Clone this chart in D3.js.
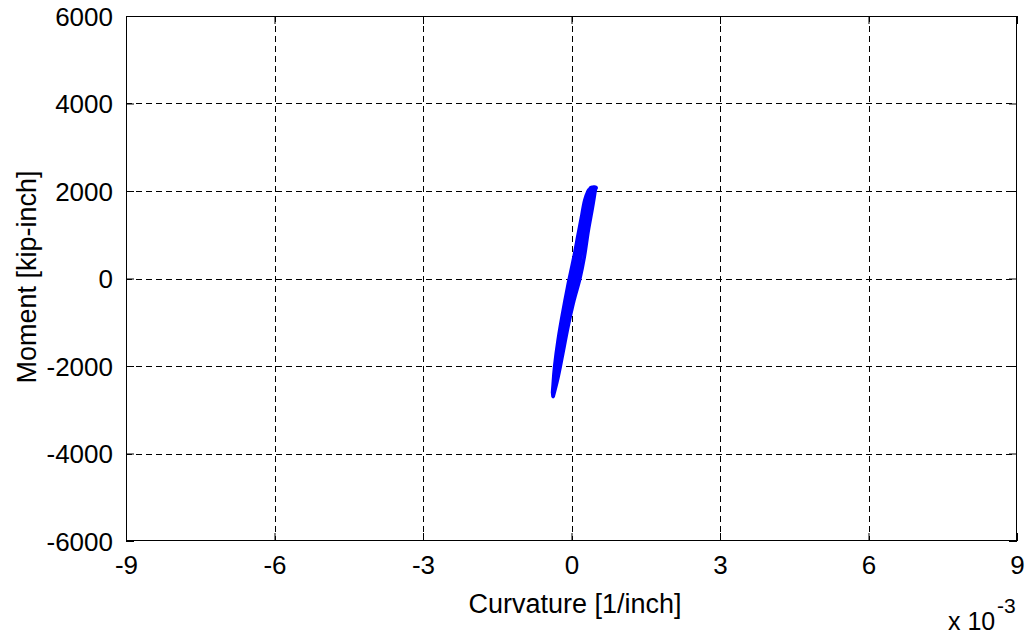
<!DOCTYPE html>
<html><head><meta charset="utf-8">
<script src="https://cdn.jsdelivr.net/npm/d3@7"></script>
<style>body{margin:0;background:#fff}svg{display:block}text{font-family:"Liberation Sans",Arial,sans-serif;fill:#000}</style>
</head><body><svg id="c" width="1028" height="634"></svg>
<script>
const xTicks=[-9,-6,-3,0,3,6,9];
const yTicks=[-6000,-4000,-2000,0,2000,4000,6000];
// curvature in units of 1e-3 1/inch, moment in kip-inch (cyclic hysteresis loops)
const curvature=[
 -0.37,-0.28,-0.19,-0.07,0.05,0.17,0.26,0.34,0.42,0.47,0.48,0.44,
 0.36,0.26,0.15,0.05,-0.08,-0.18,-0.27,-0.34,-0.37,-0.38,
 -0.33,-0.22,-0.10,0.02,0.12,0.22,0.31,0.38,0.41,0.37,
 0.30,0.20,0.10,0.00,-0.12,-0.22,-0.30,-0.35,-0.37,
 -0.32,-0.20,-0.06,0.06,0.16,0.26,0.34,0.40,0.43,0.39,
 0.32,0.22,0.12,0.01,-0.10,-0.20,-0.29,-0.35,-0.38,
 -0.34,-0.24,-0.13,0.00,0.10,0.20,0.29,0.37,0.44,0.50,0.47,
 0.40,0.30,0.19,0.07,-0.05,-0.16,-0.26,-0.33,-0.37,
 -0.30,-0.16,-0.03,0.09,0.19,0.27,0.33,0.36,0.34,
 0.27,0.18,0.08,-0.03,-0.14,-0.24,-0.32,-0.36,-0.37,
 -0.36,-0.25,-0.15,-0.04,0.07,0.14,0.24,0.32,0.39,0.45,0.42,
 0.34,0.24,0.13,0.03,-0.07,-0.17,-0.25,-0.31,-0.36,
 -0.33,-0.21,-0.09,0.03,0.13,0.23,0.30,0.35,0.38,0.35,
 0.28,0.17,0.06,-0.05,-0.15,-0.23,-0.30,-0.35,-0.38,
 -0.35,-0.26,-0.17,-0.05,0.04,0.13,0.21,0.29,0.36,0.42,0.46,0.43,
 0.37,0.28,0.17,0.06,-0.04,-0.14,-0.23,-0.30,-0.35,-0.37,
 -0.34,-0.23,-0.11,0.00,0.09,0.18,0.27,0.33,0.37,0.40,0.37,
 0.31,0.21,0.11,0.03,-0.06,-0.16,-0.25,-0.32,-0.37];
const moment=[
 -2700,-2300,-1800,-1100,-500,0,500,1100,1600,1950,2060,2090,
 2000,1700,1100,500,-200,-800,-1400,-2000,-2400,-2650,
 -2500,-1900,-1200,-500,100,700,1300,1800,2020,2050,
 1850,1300,700,100,-600,-1300,-1900,-2350,-2600,
 -2450,-1700,-900,-200,400,1000,1600,1950,2070,2080,
 1900,1400,800,100,-600,-1250,-1850,-2350,-2700,
 -2550,-2000,-1400,-600,0,600,1200,1700,2000,2070,2090,
 2000,1600,1000,300,-400,-1050,-1700,-2200,-2550,
 -2300,-1500,-800,-100,550,1150,1650,1950,2000,
 1800,1250,600,-100,-800,-1500,-2100,-2500,-2700,
 -2650,-2050,-1500,-850,-250,250,850,1400,1850,2040,2070,
 1950,1550,950,350,-300,-950,-1550,-2050,-2450,
 -2400,-1800,-1050,-350,250,800,1350,1800,2000,2030,
 1800,1150,450,-250,-900,-1500,-2000,-2450,-2680,
 -2550,-2150,-1650,-950,-400,150,650,1150,1650,1950,2040,2060,
 1980,1650,1050,400,-250,-850,-1450,-1950,-2350,-2600,
 -2450,-1850,-1150,-450,50,600,1200,1600,1900,2010,2040,
 1850,1300,650,150,-450,-1100,-1700,-2200,-2620];

const svg=d3.select("#c");
const L=126,R=1017,T=16,B=541;
const x=d3.scaleLinear().domain([-9,9]).range([L,R]);
const y=d3.scaleLinear().domain([-6000,6000]).range([B,T]);

const g=svg.append("g");
g.selectAll(".gx").data(xTicks.slice(1,-1)).enter().append("line")
 .attr("x1",d=>Math.round(x(d))+0.5).attr("x2",d=>Math.round(x(d))+0.5).attr("y1",T).attr("y2",B)
 .attr("stroke","#000").attr("stroke-width",1).attr("stroke-dasharray","6,4");
g.selectAll(".gy").data(yTicks.slice(1,-1)).enter().append("line")
 .attr("y1",d=>Math.round(y(d))+0.5).attr("y2",d=>Math.round(y(d))+0.5).attr("x1",L).attr("x2",R)
 .attr("stroke","#000").attr("stroke-width",1).attr("stroke-dasharray","6,4");

const line=d3.line().x((d,i)=>x(curvature[i])).y((d,i)=>y(moment[i])).curve(d3.curveCatmullRom);
svg.append("path").attr("d",line(curvature)).attr("fill","none").attr("stroke","#0000ff").attr("stroke-width",3.5).attr("stroke-linejoin","round");

const fmt=d=>String(d);
const ax=d3.axisBottom(x).tickValues(xTicks).tickSize(-8).tickFormat(fmt);
const ay=d3.axisLeft(y).tickValues(yTicks).tickSize(-8).tickPadding(13).tickFormat(fmt);
const gx=svg.append("g").attr("transform",`translate(0,${B})`).call(ax);
const gy=svg.append("g").attr("transform",`translate(${L},0)`).call(ay);
const gx2=svg.append("g").attr("transform",`translate(0,${T})`).call(d3.axisTop(x).tickValues(xTicks).tickSize(-8).tickFormat(""));
const gy2=svg.append("g").attr("transform",`translate(${R},0)`).call(d3.axisRight(y).tickValues(yTicks).tickSize(-8).tickFormat(""));
[gx,gy,gx2,gy2].forEach(a=>{a.selectAll("path,line").attr("stroke","#000");a.select(".domain").remove();});
gx.selectAll("text").attr("font-size",26).attr("y",33).attr("dy",0).style("font-family","Liberation Sans, Arial");
gy.selectAll("text").attr("font-size",26).attr("dy","0.36em").style("font-family","Liberation Sans, Arial");
svg.append("rect").attr("x",L+0.5).attr("y",T+0.5).attr("width",R-L-1).attr("height",B-T-1).attr("fill","none").attr("stroke","#000");

svg.append("text").attr("x",575).attr("y",613).attr("text-anchor","middle").attr("font-size",27).text("Curvature [1/inch]");
svg.append("text").attr("transform",`translate(36,277) rotate(-90)`).attr("text-anchor","middle").attr("font-size",27).text("Moment [kip-inch]");
svg.append("text").attr("x",948).attr("y",630).attr("font-size",25).text("x 10");
svg.append("text").attr("x",997).attr("y",613).attr("font-size",21).text("-3");
</script></body></html>
